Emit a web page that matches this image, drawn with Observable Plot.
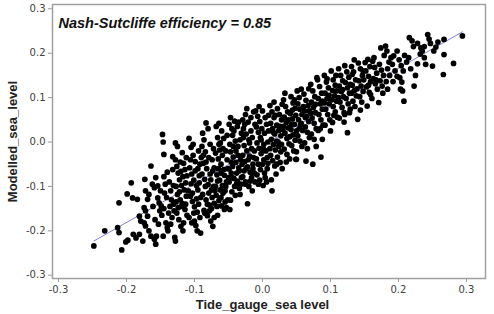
<!DOCTYPE html>
<html><head><meta charset="utf-8">
<script src="https://cdn.jsdelivr.net/npm/d3@7"></script>
<script src="https://cdn.jsdelivr.net/npm/@observablehq/plot@0.6"></script>
<style>body{margin:0;background:#fff} svg{display:block}</style>
</head><body><div id="chart"></div>
<script>
const title = "Nash-Sutcliffe efficiency = 0.85";
const xLabel = "Tide_gauge_sea level";
const yLabel = "Modelled_sea_level";
const xTicks = [-0.3, -0.2, -0.1, 0, 0.1, 0.2, 0.3];
const yTicks = [-0.3, -0.2, -0.1, 0, 0.1, 0.2, 0.3];
const fitX = [-0.248, 0.294];
const fitY = [-0.223, 0.248];

// [tide gauge, modelled] pairs
const tailLow = [
[-0.248,-0.234],[-0.232,-0.200],[-0.213,-0.193],[-0.211,-0.204],[-0.211,-0.137],[-0.207,-0.243],[-0.201,-0.225],[-0.198,-0.221],[-0.193,-0.092],[-0.199,-0.117],
[-0.191,-0.126],[-0.184,-0.129],[-0.190,-0.208],[-0.186,-0.216],[-0.181,-0.208],[-0.176,-0.223],[-0.181,-0.167],[-0.179,-0.178],[-0.174,-0.182],[-0.172,-0.189],
[-0.173,-0.084],[-0.172,-0.110],[-0.167,-0.118],[-0.169,-0.129],[-0.174,-0.148],[-0.172,-0.155],[-0.169,-0.167],[-0.167,-0.200],[-0.164,-0.054],[-0.162,-0.095],
[-0.159,-0.103],[-0.154,-0.099],[-0.164,-0.212],[-0.159,-0.219],[-0.157,-0.230],[-0.154,-0.126],[-0.152,-0.137],[-0.149,-0.144],[-0.151,-0.155],[-0.156,-0.212],
[-0.161,-0.145],[-0.158,-0.175],[-0.153,-0.185],[-0.150,-0.110],[-0.157,-0.080],[-0.147,0.017],[-0.146,0.000],[-0.145,-0.028],[-0.146,-0.212],[-0.142,-0.182],
[-0.140,-0.193],[-0.129,-0.215],[-0.128,-0.223],[-0.140,-0.068],[-0.137,-0.090],[-0.135,-0.110],[-0.143,-0.095],[-0.132,-0.033],[-0.145,-0.150],[-0.138,-0.160],
[-0.133,-0.170],[-0.141,-0.125],[-0.134,-0.130],[-0.136,-0.145],[-0.130,-0.155],[-0.144,-0.115],[-0.131,-0.098],[-0.139,-0.200],[-0.148,-0.165],[-0.135,-0.185],
[-0.131,-0.140],[-0.145,-0.078],[-0.132,-0.062],[-0.128,-0.002],[-0.125,-0.010]
];
const coreLow = [
[-0.128,-0.040],[-0.126,-0.055],[-0.124,-0.070],[-0.122,-0.085],[-0.127,-0.100],[-0.125,-0.118],[-0.121,-0.130],[-0.119,-0.145],[-0.126,-0.160],[-0.123,-0.175],
[-0.120,-0.190],[-0.118,-0.024],[-0.116,-0.048],[-0.114,-0.062],[-0.117,-0.078],[-0.113,-0.092],[-0.115,-0.108],[-0.112,-0.122],[-0.118,-0.138],[-0.114,-0.152],
[-0.111,-0.165],[-0.116,-0.182],[-0.122,-0.112],[-0.120,-0.066],[-0.127,-0.135],[-0.113,-0.140],[-0.119,-0.098],[-0.124,-0.148],[-0.111,-0.076],[-0.117,-0.200],
[-0.112,-0.035],[-0.121,-0.045],
[-0.108,0.008],[-0.105,-0.012],[-0.102,-0.030],[-0.099,-0.044],[-0.107,-0.058],[-0.104,-0.072],[-0.101,-0.086],[-0.097,-0.098],[-0.109,-0.110],[-0.106,-0.122],
[-0.103,-0.134],[-0.100,-0.146],[-0.096,-0.158],[-0.108,-0.170],[-0.104,-0.182],[-0.096,-0.200],[-0.091,-0.205],[-0.094,-0.020],[-0.092,-0.050],[-0.093,-0.076],
[-0.095,-0.108],[-0.091,-0.125],[-0.094,-0.140],[-0.092,-0.170],[-0.098,-0.188],[-0.102,-0.005],[-0.099,-0.065],[-0.105,-0.094],[-0.097,-0.128],[-0.101,-0.160],
[-0.093,-0.092],[-0.106,-0.040],[-0.090,-0.035],[-0.103,-0.115],[-0.095,-0.060],[-0.100,-0.178],
[-0.088,0.020],[-0.083,0.043],[-0.080,0.030],[-0.086,0.005],[-0.089,-0.010],[-0.084,-0.022],[-0.079,-0.035],[-0.087,-0.048],[-0.082,-0.060],[-0.077,-0.072],
[-0.085,-0.084],[-0.080,-0.096],[-0.075,-0.108],[-0.088,-0.118],[-0.083,-0.130],[-0.078,-0.142],[-0.086,-0.154],[-0.081,-0.166],[-0.076,-0.178],[-0.071,-0.170],
[-0.073,-0.190],[-0.072,-0.015],[-0.074,-0.040],[-0.071,-0.058],[-0.076,-0.085],[-0.072,-0.100],[-0.074,-0.125],[-0.071,-0.138],[-0.078,-0.155],[-0.089,-0.072],
[-0.084,-0.100],[-0.081,-0.140],[-0.077,-0.005],[-0.087,-0.030],[-0.075,-0.150],[-0.079,-0.115],[-0.073,-0.065],[-0.083,-0.045],[-0.070,-0.110],[-0.085,-0.160],
[-0.068,0.035],[-0.064,0.042],[-0.060,0.025],[-0.066,0.010],[-0.062,-0.002],[-0.058,-0.015],[-0.069,-0.025],[-0.065,-0.038],[-0.061,-0.050],[-0.057,-0.062],
[-0.067,-0.074],[-0.063,-0.086],[-0.059,-0.098],[-0.055,-0.110],[-0.068,-0.120],[-0.064,-0.132],[-0.060,-0.144],[-0.056,-0.152],[-0.066,-0.165],[-0.053,-0.148],
[-0.051,-0.130],[-0.054,-0.020],[-0.052,-0.040],[-0.056,-0.075],[-0.053,-0.090],[-0.051,-0.060],[-0.058,-0.115],[-0.061,-0.125],[-0.069,-0.100],[-0.065,-0.060],
[-0.063,-0.018],[-0.057,0.008],[-0.067,-0.145],[-0.062,-0.108],[-0.054,-0.100],[-0.059,-0.030],[-0.052,0.015],[-0.066,-0.088],[-0.055,-0.135],[-0.061,-0.070],
[-0.050,-0.080],[-0.064,-0.005]
];
const coreMid = [
[-0.048,-0.152],[-0.047,-0.131],[-0.049,0.040],[-0.045,0.030],[-0.041,0.047],[-0.037,0.035],[-0.044,0.015],[-0.040,0.002],[-0.036,-0.010],[-0.047,-0.022],
[-0.043,-0.034],[-0.039,-0.046],[-0.035,-0.058],[-0.046,-0.070],[-0.042,-0.082],[-0.038,-0.094],[-0.034,-0.104],[-0.045,-0.112],[-0.041,-0.100],[-0.033,-0.118],
[-0.031,-0.080],[-0.032,-0.040],[-0.031,0.020],[-0.033,0.005],[-0.038,-0.070],[-0.044,-0.055],[-0.049,-0.090],[-0.040,-0.120],[-0.036,-0.030],[-0.048,-0.005],
[-0.034,-0.065],[-0.046,-0.045],[-0.042,0.025],[-0.037,-0.088],[-0.043,-0.010],[-0.030,-0.050],[-0.039,-0.020],[-0.047,0.055],[-0.045,-0.080],[-0.032,-0.095],
[-0.035,0.045],[-0.049,-0.060],
[-0.029,0.050],[-0.025,0.062],[-0.021,0.045],[-0.028,0.030],[-0.024,0.018],[-0.020,0.005],[-0.027,-0.008],[-0.023,-0.020],[-0.019,-0.032],[-0.026,-0.044],
[-0.022,-0.056],[-0.018,-0.068],[-0.029,-0.078],[-0.025,-0.090],[-0.025,-0.095],[-0.022,-0.139],[-0.016,-0.080],[-0.014,-0.050],[-0.012,-0.020],[-0.015,0.010],
[-0.011,0.040],[-0.017,0.055],[-0.013,0.068],[-0.028,0.010],[-0.024,-0.060],[-0.020,-0.100],[-0.015,-0.110],[-0.012,-0.070],[-0.019,-0.002],[-0.026,0.040],
[-0.021,-0.040],[-0.017,0.025],[-0.013,-0.035],[-0.011,-0.090],[-0.027,-0.065],[-0.018,-0.088],[-0.023,0.075],[-0.016,-0.015],[-0.029,-0.030],[-0.014,-0.060],
[-0.010,0.070],[-0.007,0.058],[-0.004,0.046],[-0.009,0.034],[-0.006,0.022],[-0.003,0.010],[-0.008,-0.002],[-0.005,-0.014],[-0.002,-0.026],[-0.009,-0.038],
[-0.006,-0.050],[-0.003,-0.062],[-0.008,-0.074],[-0.004,-0.086],[0.001,-0.098],[0.004,-0.080],[0.007,-0.060],[0.002,-0.040],[0.005,-0.020],[0.008,0.000],
[0.003,0.020],[0.006,0.040],[0.009,0.060],[0.000,0.070],[0.004,0.055],[-0.001,0.030],[0.002,-0.005],[0.007,-0.035],[0.000,-0.050],[0.003,-0.070],
[0.014,-0.110],[-0.006,-0.095],[0.009,0.025],[0.006,-0.090],[-0.002,0.005],[0.008,-0.048],[-0.005,0.080],[0.001,-0.015],
[0.011,0.082],[0.014,0.068],[0.017,0.055],[0.012,0.042],[0.015,0.030],[0.018,0.018],[0.013,0.006],[0.016,-0.006],[0.019,-0.018],[0.012,-0.030],
[0.015,-0.042],[0.018,-0.054],[0.022,0.075],[0.025,0.062],[0.028,0.050],[0.021,0.038],[0.024,0.026],[0.027,0.014],[0.021,0.002],[0.024,-0.010],
[0.027,-0.022],[0.022,-0.034],[0.026,-0.046],[0.029,-0.060],[0.020,-0.072],[0.013,-0.085],[0.017,0.090],[0.029,0.085],[0.023,0.000],[0.026,0.035],
[0.019,0.060],[0.011,-0.015],[0.028,-0.005],[0.016,0.022],[0.021,-0.050],[0.030,0.028],
[0.031,0.095],[0.034,0.080],[0.037,0.068],[0.032,0.056],[0.035,0.044],[0.038,0.032],[0.033,0.020],[0.036,0.008],[0.039,-0.004],[0.032,-0.016],
[0.036,-0.028],[0.040,-0.038],[0.042,0.102],[0.045,0.088],[0.048,0.076],[0.041,0.064],[0.044,0.052],[0.047,0.040],[0.042,0.028],[0.045,0.016],
[0.048,0.004],[0.043,-0.008],[0.046,-0.020],[0.049,-0.039],[0.038,0.050],[0.033,0.110],[0.044,0.072],[0.049,0.060],[0.040,0.012],[0.035,-0.045],
[0.047,0.095],[0.031,0.035],[0.043,0.040],[0.050,0.025]
];
const coreHigh = [
[0.051,0.115],[0.054,0.100],[0.057,0.119],[0.052,0.086],[0.055,0.074],[0.058,0.062],[0.053,0.050],[0.056,0.038],[0.059,0.026],[0.052,0.014],
[0.055,0.002],[0.058,-0.010],[0.050,-0.022],[0.050,-0.039],[0.064,-0.043],[0.061,0.108],[0.064,0.094],[0.067,0.082],[0.062,0.070],[0.065,0.058],
[0.068,0.046],[0.063,0.034],[0.066,0.022],[0.069,0.010],[0.062,-0.002],[0.066,-0.015],[0.060,0.080],[0.068,0.120],[0.057,0.042],[0.063,0.055],
[0.069,0.070],[0.054,0.030],
[0.074,-0.050],[0.086,-0.034],[0.088,0.006],[0.071,0.130],[0.074,0.115],[0.077,0.102],[0.072,0.090],[0.075,0.078],[0.078,0.066],[0.073,0.054],
[0.076,0.042],[0.079,0.030],[0.072,0.018],[0.076,0.006],[0.081,0.140],[0.084,0.125],[0.087,0.110],[0.082,0.098],[0.085,0.086],[0.088,0.074],
[0.083,0.062],[0.086,0.050],[0.089,0.038],[0.082,0.026],[0.080,0.145],[0.078,0.085],[0.085,0.030],[0.071,0.065],[0.088,0.092],[0.079,-0.010],
[0.101,0.160],[0.091,0.150],[0.094,0.135],[0.097,0.122],[0.092,0.110],[0.095,0.098],[0.098,0.086],[0.093,0.074],[0.096,0.062],[0.099,0.050],
[0.092,0.038],[0.100,0.025],[0.104,0.140],[0.107,0.128],[0.103,0.116],[0.106,0.104],[0.109,0.092],[0.104,0.080],[0.107,0.068],[0.110,0.056],
[0.103,0.044],[0.108,0.150],[0.095,0.142],[0.102,0.095],[0.098,0.105],[0.105,0.060],[0.091,0.088],[0.109,0.115],
[0.125,0.021],[0.112,0.165],[0.115,0.150],[0.118,0.138],[0.113,0.126],[0.116,0.114],[0.119,0.102],[0.114,0.090],[0.117,0.078],[0.120,0.066],
[0.113,0.054],[0.121,0.172],[0.124,0.158],[0.127,0.146],[0.122,0.134],[0.125,0.122],[0.128,0.110],[0.123,0.098],[0.126,0.086],[0.129,0.074],
[0.121,0.062],[0.120,0.045],[0.128,0.066],[0.112,0.100],[0.118,0.118],[0.129,0.130],
[0.140,0.051],[0.132,0.152],[0.131,0.170],[0.134,0.158],[0.137,0.140],[0.132,0.128],[0.135,0.116],[0.138,0.104],[0.133,0.092],[0.136,0.080],
[0.141,0.178],[0.144,0.165],[0.147,0.150],[0.142,0.138],[0.145,0.126],[0.148,0.114],[0.143,0.102],[0.146,0.090],[0.149,0.140],[0.139,0.120],
[0.131,0.110],[0.144,0.072],[0.148,0.160],[0.135,0.185]
];
const tailHigh = [
[0.154,0.081],[0.159,0.107],[0.151,0.179],[0.155,0.186],[0.158,0.170],[0.152,0.160],[0.156,0.148],[0.159,0.136],[0.153,0.124],[0.157,0.112],
[0.162,0.182],[0.165,0.168],[0.168,0.155],[0.163,0.143],[0.166,0.131],[0.169,0.119],[0.161,0.098],[0.164,0.190],[0.167,0.140],[0.156,0.128],
[0.171,0.089],[0.181,0.216],[0.174,0.212],[0.172,0.175],[0.175,0.162],[0.178,0.150],[0.173,0.138],[0.176,0.126],[0.179,0.195],[0.183,0.205],
[0.186,0.180],[0.184,0.165],[0.187,0.150],[0.182,0.136],[0.184,0.119],[0.189,0.190],[0.177,0.110],
[0.198,0.205],[0.193,0.194],[0.208,0.092],[0.206,0.115],[0.203,0.119],[0.191,0.175],[0.195,0.160],[0.198,0.148],[0.192,0.136],[0.201,0.185],
[0.204,0.172],[0.207,0.160],[0.202,0.145],[0.205,0.135],[0.209,0.195],
[0.216,0.235],[0.220,0.228],[0.222,0.215],[0.228,0.222],[0.243,0.242],[0.245,0.232],[0.247,0.222],[0.235,0.205],[0.232,0.198],[0.238,0.190],
[0.250,0.171],[0.240,0.175],[0.228,0.176],[0.223,0.126],[0.215,0.190],[0.218,0.165],[0.225,0.150],[0.212,0.180],[0.238,0.215],[0.233,0.212],
[0.267,0.231],[0.294,0.239],[0.267,0.197],[0.281,0.177],[0.266,0.152],[0.255,0.214],[0.258,0.225],[0.252,0.205]
];

const points = [...tailLow, ...coreLow, ...coreMid, ...coreHigh, ...tailHigh]
  .map(([tide, model]) => ({tide, model}));
const fitLine = fitX.map((x, i) => ({x, y: fitY[i]}));
const fmt = d => d.toFixed(1);

const chart = Plot.plot({
  width: 494,
  height: 314,
  marginLeft: 52,
  marginRight: 9,
  marginTop: 4,
  marginBottom: 36,
  style: {fontFamily: "DejaVu Sans", fontSize: "10px", background: "#fff"},
  x: {domain: [-0.3088, 0.328]},
  y: {domain: [-0.3074, 0.3097]},
  marks: [
    Plot.line(fitLine, {x: "x", y: "y", stroke: "#7f7fe0", strokeWidth: 1}),
    Plot.dot(points, {x: "tide", y: "model", r: 2.85, fill: "#000", stroke: null}),
    Plot.frame({stroke: "#a0a0a0", strokeWidth: 1.5}),
    Plot.axisY(yTicks, {tickSize: 4, tickPadding: 3, tickFormat: fmt, stroke: "#999", fill: "#404040", label: null, fontSize: 10}),
    Plot.axisX(xTicks, {tickSize: 4, tickPadding: 3, tickFormat: fmt, stroke: "#999", fill: "#404040", label: null, fontSize: 10}),
    Plot.text([yLabel], {frameAnchor: "left", rotate: -90, dx: -40, text: d => d, fontFamily: "Liberation Sans", fontWeight: "bold", fontSize: 13, fill: "#222", textAnchor: "middle", lineAnchor: "middle"}),
    Plot.text([xLabel], {frameAnchor: "bottom", dx: -6.5, dy: 26, text: d => d, fontFamily: "Liberation Sans", fontWeight: "bold", fontSize: 13, fill: "#222", textAnchor: "middle", lineAnchor: "middle"}),
    Plot.text([title], {frameAnchor: "top-left", dx: 6, dy: 13, text: d => d, fontFamily: "Liberation Sans", fontWeight: "bold", fontStyle: "italic", fontSize: 14.5, fill: "#111", textAnchor: "start", lineAnchor: "top"})
  ]
});
document.getElementById("chart").append(chart);
</script>
</body></html>
